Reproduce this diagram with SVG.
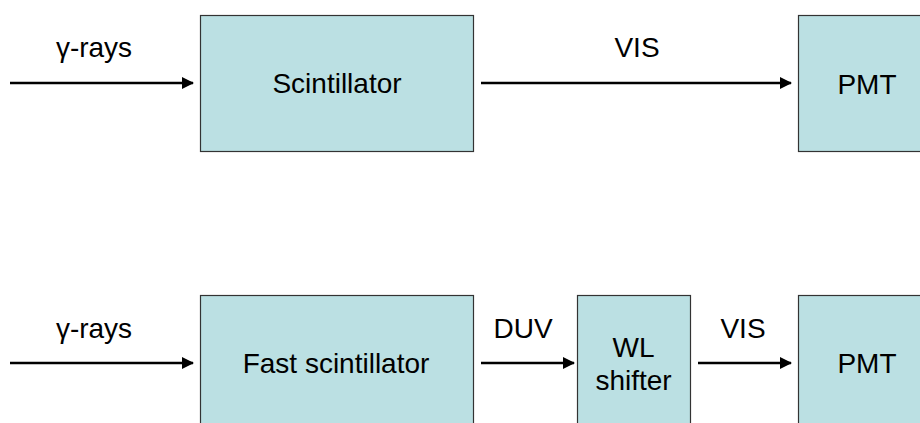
<svg xmlns="http://www.w3.org/2000/svg" width="920" height="423" viewBox="0 0 920 423">
<style>
.box{fill:#BBE0E3;stroke:#333;stroke-width:1.2}
.t{font-family:"Liberation Sans",Arial,sans-serif;font-size:28px;fill:#000;text-anchor:middle}
.c{stroke:#000;stroke-width:2.5;fill:none;marker-end:url(#ah)}
</style>
<defs>
<marker id="ah" markerUnits="userSpaceOnUse" markerWidth="12" markerHeight="12" refX="11" refY="6" orient="auto">
<path d="M0,0 L12,6 L0,12 Z" fill="#000"/>
</marker>
</defs>
<rect width="920" height="423" fill="#fff"/>
<g id="connectors">
<line class="c" x1="10" y1="83" x2="193" y2="83"/>
<line class="c" x1="481" y1="83" x2="791" y2="83"/>
<line class="c" x1="10" y1="363" x2="193" y2="363"/>
<line class="c" x1="481" y1="363" x2="574" y2="363"/>
<line class="c" x1="698" y1="363" x2="791" y2="363"/>
<text class="t" x="94" y="57">γ-rays</text>
<text class="t" x="637" y="57">VIS</text>
<text class="t" x="94" y="338">γ-rays</text>
<text class="t" x="523" y="338">DUV</text>
<text class="t" x="743" y="338">VIS</text>
</g>
<g id="scintillator">
<rect class="box" x="200.5" y="15.5" width="273" height="136"/>
<text class="t" x="337" y="93">Scintillator</text>
</g>
<g id="pmt1">
<rect class="box" x="798.5" y="15.5" width="150" height="136"/>
<text class="t" x="867" y="94">PMT</text>
</g>
<g id="fast-scintillator">
<rect class="box" x="200.5" y="295.5" width="273" height="150"/>
<text class="t" x="336" y="373">Fast scintillator</text>
</g>
<g id="wl-shifter">
<rect class="box" x="577.5" y="295.5" width="113" height="150"/>
<text class="t" x="633.5" y="357">WL</text>
<text class="t" x="633.5" y="390">shifter</text>
</g>
<g id="pmt2">
<rect class="box" x="798.5" y="295.5" width="150" height="150"/>
<text class="t" x="867" y="373">PMT</text>
</g>
</svg>
